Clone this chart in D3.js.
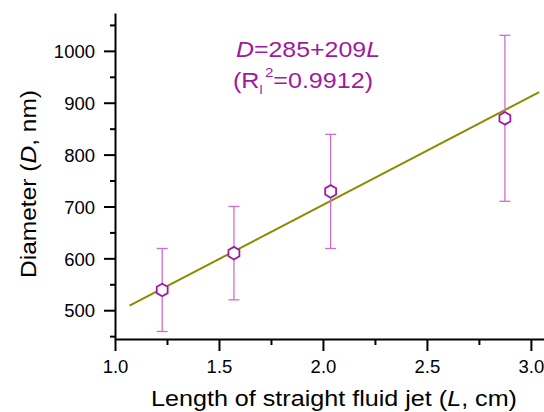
<!DOCTYPE html>
<html>
<head>
<meta charset="utf-8">
<script src="https://cdn.jsdelivr.net/npm/d3@7"></script>
<style>
  body { margin: 0; background: #fff; }
  svg { display: block; font-family: Arial, "Liberation Sans", sans-serif; }
</style>
</head>
<body>
<svg width="544" height="412"></svg>
<script>
// data
const lengths = [1.227, 1.572, 2.037, 2.875];
const diameters = [539, 610, 729, 870];
const errors = [80, 90, 110, 160];
const fitLine = [1.07, 3.04];           // range of the fitted line (L)
const fitA = 285, fitB = 209;
const xTicks = [1.0, 1.5, 2.0, 2.5, 3.0];
const yTicks = [500, 600, 700, 800, 900, 1000];

const svg = d3.select("svg");
const mLeft = 115, mRight = 544, mTop = 13, mBottom = 339;

const x = d3.scaleLinear().domain([1.0, 3.063]).range([mLeft, mRight]);
const y = d3.scaleLinear().domain([444.5, 1073]).range([mBottom, mTop]);

const purple = "#9e1a9e", pink = "#cc6fcc", olive = "#8b8b00";

// minor ticks first
svg.append("g").attr("transform", "translate(0," + mBottom + ")")
    .call(d3.axisBottom(x).tickValues([1.25, 1.75, 2.25, 2.75]).tickSize(6).tickFormat(""))
    .call(g => g.select(".domain").remove())
    .selectAll("line").attr("stroke", "#000").attr("stroke-width", 2);
svg.append("g").attr("transform", "translate(" + mLeft + ",0)")
    .call(d3.axisLeft(y).tickValues([450, 550, 650, 750, 850, 950, 1050]).tickSize(5).tickFormat(""))
    .call(g => g.select(".domain").remove())
    .selectAll("line").attr("stroke", "#000").attr("stroke-width", 2);

// major axes
const xAxis = svg.append("g").attr("transform", "translate(0," + mBottom + ")")
    .call(d3.axisBottom(x).tickValues(xTicks).tickSize(12).tickSizeOuter(0).tickPadding(9).tickFormat(d3.format(".1f")));
const yAxis = svg.append("g").attr("transform", "translate(" + mLeft + ",0)")
    .call(d3.axisLeft(y).tickValues(yTicks).tickSize(11).tickSizeOuter(0).tickPadding(9).tickFormat(d3.format("d")));
[xAxis, yAxis].forEach(a => {
    a.select(".domain").attr("stroke", "#000").attr("stroke-width", 2);
    a.selectAll(".tick line").attr("stroke", "#000").attr("stroke-width", 2);
    a.selectAll(".tick text").attr("fill", "#000").style("font-size", "18.5px").style("font-family", "Arial, 'Liberation Sans', sans-serif");
});
yAxis.selectAll(".tick text").attr("dy", "0.36em");

// axis titles
const xt = svg.append("text").attr("x", 334).attr("y", 406).attr("text-anchor", "middle")
    .attr("textLength", 366).attr("lengthAdjust", "spacingAndGlyphs")
    .style("font-size", "21.5px").attr("fill", "#000");
xt.append("tspan").text("Length of straight fluid jet (");
xt.append("tspan").style("font-style", "italic").text("L");
xt.append("tspan").text(", cm)");

const yt = svg.append("text").attr("transform", "translate(36,184) rotate(-90)").attr("text-anchor", "middle")
    .attr("textLength", 188).attr("lengthAdjust", "spacingAndGlyphs")
    .style("font-size", "21.5px").attr("fill", "#000");
yt.append("tspan").text("Diameter (");
yt.append("tspan").style("font-style", "italic").text("D");
yt.append("tspan").text(", nm)");

// fitted line
svg.append("line")
    .attr("x1", x(fitLine[0])).attr("y1", y(fitA + fitB * fitLine[0]))
    .attr("x2", x(fitLine[1])).attr("y2", y(fitA + fitB * fitLine[1]))
    .attr("stroke", olive).attr("stroke-width", 2);

// error bars
const pts = lengths.map((L, i) => ({ L: L, D: diameters[i], e: errors[i] }));
const eb = svg.append("g").attr("stroke", pink).attr("stroke-width", 1.3);
pts.forEach(p => {
    eb.append("line").attr("x1", x(p.L)).attr("x2", x(p.L)).attr("y1", y(p.D + p.e)).attr("y2", y(p.D - p.e));
    [p.D + p.e, p.D - p.e].forEach(v => {
        eb.append("line").attr("x1", x(p.L) - 5.5).attr("x2", x(p.L) + 5.5).attr("y1", y(v)).attr("y2", y(v));
    });
});

// hexagon markers
const r = 6.3;
const hex = d3.range(6).map(k => {
    const a = Math.PI / 2 + k * Math.PI / 3;
    return [r * Math.cos(a), r * Math.sin(a)];
});
svg.selectAll(".pt").data(pts).enter().append("path")
    .attr("class", "pt")
    .attr("transform", d => "translate(" + x(d.L) + "," + y(d.D) + ")")
    .attr("d", "M" + hex.join("L") + "Z")
    .attr("fill", "white").attr("stroke", purple).attr("stroke-width", 1.8);

// equation
const eq = svg.append("text").attr("x", 236).attr("y", 57).attr("fill", purple)
    .attr("textLength", 144).attr("lengthAdjust", "spacingAndGlyphs").style("font-size", "21.5px");
eq.append("tspan").style("font-style", "italic").text("D");
eq.append("tspan").text("=285+209");
eq.append("tspan").style("font-style", "italic").text("L");

const r2 = svg.append("text").attr("x", 233).attr("y", 88).attr("fill", purple)
    .attr("textLength", 140).attr("lengthAdjust", "spacingAndGlyphs").style("font-size", "21.5px");
r2.append("tspan").text("(R");
r2.append("tspan").attr("dy", 6).style("font-size", "12px").text("l");
r2.append("tspan").attr("dy", -17).attr("dx", 2).style("font-size", "13px").text("2");
r2.append("tspan").attr("dy", 11).text("=0.9912)");
</script>
</body>
</html>
